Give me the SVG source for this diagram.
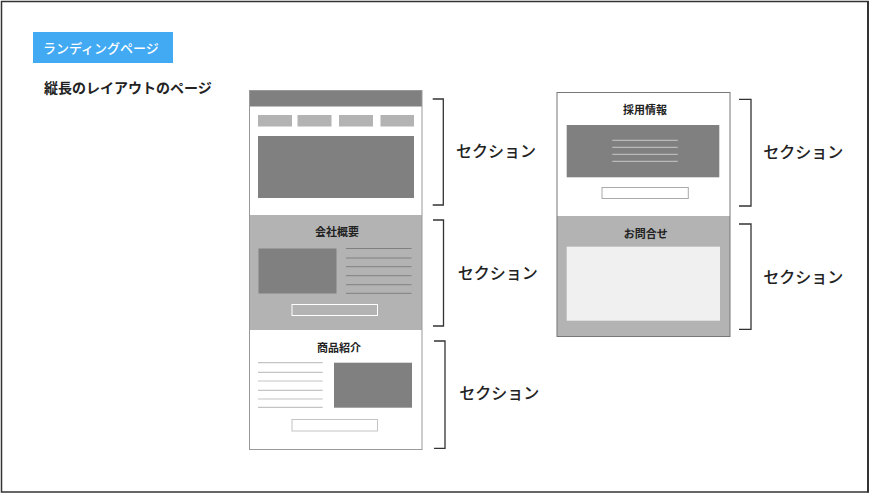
<svg xmlns="http://www.w3.org/2000/svg" width="870" height="494" viewBox="0 0 870 494">
<style>
.jp{font-family:"Liberation Sans","Noto Sans CJK JP",sans-serif;fill:#222}
.h{font-size:11px;font-weight:bold;text-anchor:middle}
.sec{font-size:16px;font-weight:500}
.dark{fill:#808080}
.lite{fill:#b3b3b3}
.br{fill:none;stroke:#333;stroke-width:1.3}
.pg{fill:none;stroke:#999;stroke-width:1}
</style>
<rect x="0" y="0" width="870" height="494" fill="#fff"/>
<rect x="1.5" y="1.5" width="866.5" height="490.5" fill="none" stroke="#333" stroke-width="1.5"/>
<line x1="868" y1="1" x2="868" y2="492.5" stroke="#333" stroke-width="2"/>
<g id="title">
<rect x="33" y="32" width="140" height="31" fill="#42a9f3"/>
<text x="43" y="52.5" class="jp" style="fill:#fff;font-size:13px;font-weight:500">ランディングページ</text>
</g>
<text x="44" y="93" class="jp" style="font-size:14px;font-weight:bold">縦長のレイアウトのページ</text>

<g id="left-page">
<rect x="249.5" y="90.5" width="172.5" height="359" fill="#fff"/>
<rect x="249.5" y="90.5" width="172.5" height="16" class="dark"/>
<rect x="258" y="115" width="34" height="11.5" class="lite"/>
<rect x="297.5" y="115" width="34" height="11.5" class="lite"/>
<rect x="339" y="115" width="34" height="11.5" class="lite"/>
<rect x="380.5" y="115" width="33.5" height="11.5" class="lite"/>
<rect x="258" y="136" width="156" height="62" class="dark"/>
<g id="sec-company">
<rect x="249.5" y="215" width="172.5" height="115" class="lite"/>
<text x="337" y="235.5" class="jp h">会社概要</text>
<rect x="258.5" y="248.5" width="78" height="45" class="dark"/>
<g stroke="#808080" stroke-width="1">
<line x1="346" y1="248.5" x2="411.5" y2="248.5"/>
<line x1="346" y1="258" x2="411.5" y2="258"/>
<line x1="346" y1="266.7" x2="411.5" y2="266.7"/>
<line x1="346" y1="275.7" x2="411.5" y2="275.7"/>
<line x1="346" y1="284.7" x2="411.5" y2="284.7"/>
<line x1="346" y1="293.3" x2="411.5" y2="293.3"/>
</g>
<rect x="292" y="304.5" width="85.5" height="11" fill="none" stroke="#fff" stroke-width="1"/>
</g>
<g id="sec-products">
<text x="339" y="351.5" class="jp h">商品紹介</text>
<g stroke="#c4c4c4" stroke-width="1.2">
<line x1="258" y1="362.7" x2="322.7" y2="362.7"/>
<line x1="258" y1="372.3" x2="322.7" y2="372.3"/>
<line x1="258" y1="381" x2="322.7" y2="381"/>
<line x1="258" y1="390.3" x2="322.7" y2="390.3"/>
<line x1="258" y1="399" x2="322.7" y2="399"/>
<line x1="258" y1="407.3" x2="322.7" y2="407.3"/>
</g>
<rect x="334" y="362.7" width="78" height="45" class="dark"/>
<rect x="292" y="419.5" width="85.5" height="11.5" fill="#fff" stroke="#c4c4c4" stroke-width="1"/>
</g>
<rect x="249.5" y="90.5" width="172.5" height="359" class="pg"/>
</g>

<g id="right-page">
<rect x="557" y="92.5" width="173" height="244" fill="#fff"/>
<text x="645" y="113.5" class="jp h">採用情報</text>
<rect x="566.7" y="125" width="152.6" height="52.3" class="dark"/>
<g stroke="#c8c8c8" stroke-width="1">
<line x1="612.3" y1="140.3" x2="677.7" y2="140.3"/>
<line x1="612.3" y1="147.3" x2="677.7" y2="147.3"/>
<line x1="612.3" y1="154.3" x2="677.7" y2="154.3"/>
<line x1="612.3" y1="161.3" x2="677.7" y2="161.3"/>
</g>
<rect x="602" y="187.5" width="86.3" height="11" fill="#fff" stroke="#aaa" stroke-width="1"/>
<g id="sec-contact">
<rect x="557" y="216" width="173" height="120.5" class="lite"/>
<text x="645.7" y="237.5" class="jp h">お問合せ</text>
<rect x="566.7" y="246.7" width="153.3" height="74" fill="#f0f0f0"/>
</g>
<rect x="557" y="92.5" width="173" height="244" fill="none" stroke="#777" stroke-width="1"/>
</g>

<g id="brackets">
<path class="br" d="M432.7,99 H443.3 V205 H432.7"/>
<path class="br" d="M433,220 H443.5 V326 H433"/>
<path class="br" d="M434,341 H445 V448.3 H434"/>
<path class="br" d="M739,99.3 H751 V206 H739"/>
<path class="br" d="M739,224 H751 V329.3 H739"/>
</g>
<g id="labels">
<text x="456" y="157" class="jp sec">セクション</text>
<text x="457.7" y="278.5" class="jp sec">セクション</text>
<text x="459.3" y="399" class="jp sec">セクション</text>
<text x="763.3" y="157.5" class="jp sec">セクション</text>
<text x="763.3" y="282.5" class="jp sec">セクション</text>
</g>
</svg>
